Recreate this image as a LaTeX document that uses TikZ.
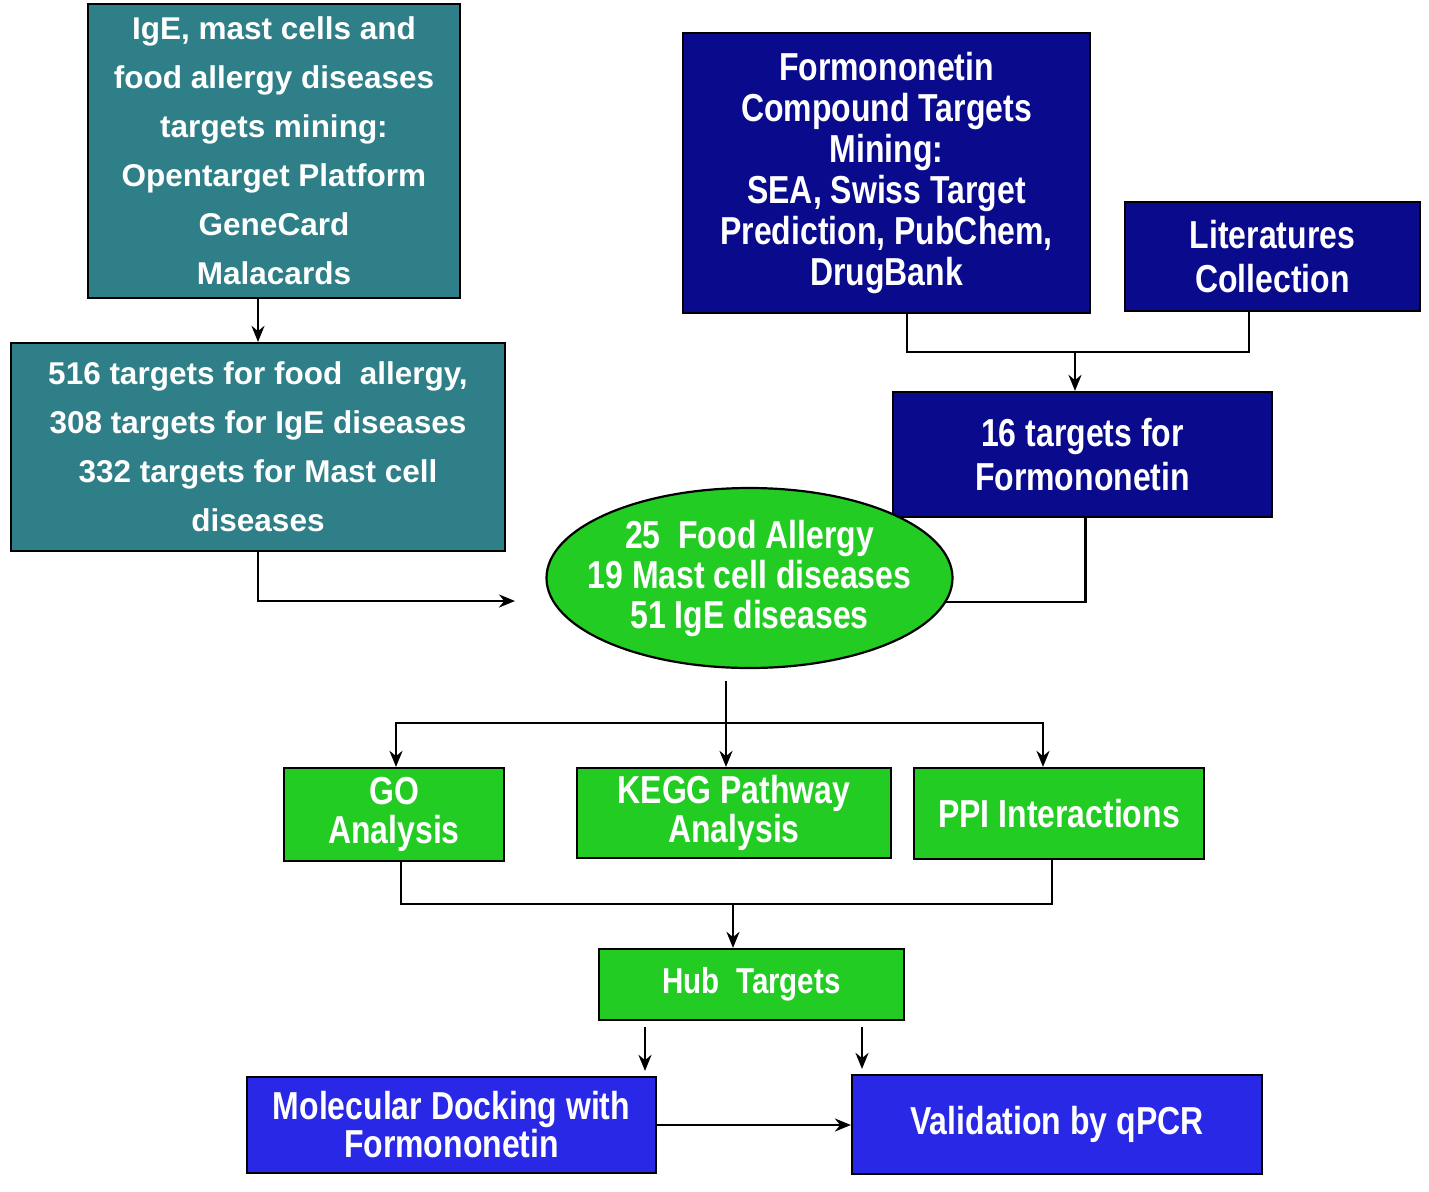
\documentclass[tikz,border=0pt]{standalone}
\usepackage{fontspec}
\setmainfont{Liberation Sans}
\newfontfamily\narrowfont[FakeStretch=0.82]{Liberation Sans}
\usetikzlibrary{shapes.geometric,arrows.meta}
\definecolor{tealc}{RGB}{47,127,136}
\definecolor{navyc}{RGB}{10,10,140}
\definecolor{greenc}{RGB}{34,204,34}
\definecolor{bluec}{RGB}{40,40,230}
\tikzset{
  box/.style={draw=black, line width=2.2pt, inner sep=0pt, text=white, align=center},
  tealbox/.style={box, fill=tealc, font=\bfseries\fontsize{31.5}{49}\selectfont},
  navybox/.style={box, fill=navyc, font=\narrowfont\bfseries\fontsize{39}{41}\selectfont},
  greenbox/.style={box, fill=greenc, font=\narrowfont\bfseries\fontsize{39}{39}\selectfont},
  bluebox/.style={box, fill=bluec, font=\narrowfont\bfseries\fontsize{39}{38}\selectfont},
  conn/.style={draw=black, line width=2.4pt},
  arr/.style={conn, -{Stealth[length=16pt,width=13pt]}}
}
\begin{document}
\begin{tikzpicture}[x=1pt,y=-1pt]
\fill[white] (0,0) rectangle (1429,1191);
\useasboundingbox (0,0) rectangle (1429,1191);

\node[tealbox, minimum width=372pt, minimum height=294pt] (A) at (274,151)
  {IgE, mast cells and\\food allergy diseases\\targets mining:\\Opentarget Platform\\GeneCard\\Malacards};
\node[tealbox, minimum width=494pt, minimum height=208pt] (B) at (258,447)
  {516 targets for food\ \ allergy,\\308 targets for IgE diseases\\332 targets for Mast cell\\diseases};

\node[navybox, minimum width=407pt, minimum height=280pt] (C) at (886.5,173)
  {Formononetin\\Compound Targets\\Mining:\\SEA, Swiss Target\\Prediction, PubChem,\\DrugBank};
\node[navybox, minimum width=295pt, minimum height=109pt, font=\narrowfont\bfseries\fontsize{39}{44}\selectfont] (D) at (1272.5,256.5)
  {Literatures\\Collection};
\node[navybox, minimum width=379pt, minimum height=125pt, font=\narrowfont\bfseries\fontsize{39}{44}\selectfont] (E) at (1082.5,454.5)
  {16 targets for\\Formononetin};

\node[box, ellipse, fill=greenc, inner xsep=-25pt, inner ysep=0pt, minimum width=406pt, minimum height=180pt, font=\narrowfont\bfseries\fontsize{39}{40}\selectfont] (F) at (749.5,578)
  {25\ \ Food Allergy\\19 Mast cell diseases\\51 IgE diseases};

\node[greenbox, minimum width=220pt, minimum height=93pt] (GO) at (394,814.5) {GO\\Analysis};
\node[greenbox, minimum width=314pt, minimum height=90pt] (KEGG) at (734,813) {KEGG Pathway\\Analysis};
\node[greenbox, minimum width=290pt, minimum height=91pt] (PPI) at (1059,813.5) {PPI Interactions};
\node[greenbox, minimum width=305pt, minimum height=71pt, font=\narrowfont\bfseries\fontsize{36}{36}\selectfont] (Hub) at (751.5,984.5) {Hub\ \ Targets};

\node[bluebox, minimum width=409pt, minimum height=96pt] (Mol) at (451.5,1125) {Molecular Docking with\\Formononetin};
\node[bluebox, minimum width=410pt, minimum height=99pt] (Val) at (1057,1124.5) {Validation by qPCR};

% connectors
\draw[arr] (B.north |- A.south) -- (B.north);

\coordinate (m1) at (1075,352);
\draw[conn] ([xshift=20.5pt]C.south) |- (m1);
\draw[conn] ([xshift=-23.5pt]D.south) |- (m1);
\draw[arr] (m1) -- (m1 |- E.north);

\coordinate (fa) at (515,601);
\draw[arr] (B.south) |- (fa);
\draw[conn] ([xshift=3pt]E.south) |- (F.-7);

\coordinate (sp) at (726,723);
\draw[conn] ([xshift=-23.5pt,yshift=-12pt]F.south) -- (sp);
\draw[arr] (sp) -- (sp |- KEGG.north);
\draw[arr] (sp) -| ([xshift=2pt]GO.north);
\draw[arr] (sp) -| ([xshift=-16pt]PPI.north);

\coordinate (jn) at (733,904);
\draw[conn] ([xshift=7pt]GO.south) |- (jn) -| ([xshift=-7pt]PPI.south);
\draw[arr] (jn) -- (jn |- Hub.north);

\coordinate (h1) at (645,1027);
\coordinate (h2) at (862,1027);
\draw[arr] (h1) -- ([yshift=5pt]h1 |- Mol.north);
\draw[arr] (h2) -- ([yshift=5pt]h2 |- Val.north);

\draw[arr] (Mol.east) -- (Mol.east -| Val.west);
\end{tikzpicture}
\end{document}
